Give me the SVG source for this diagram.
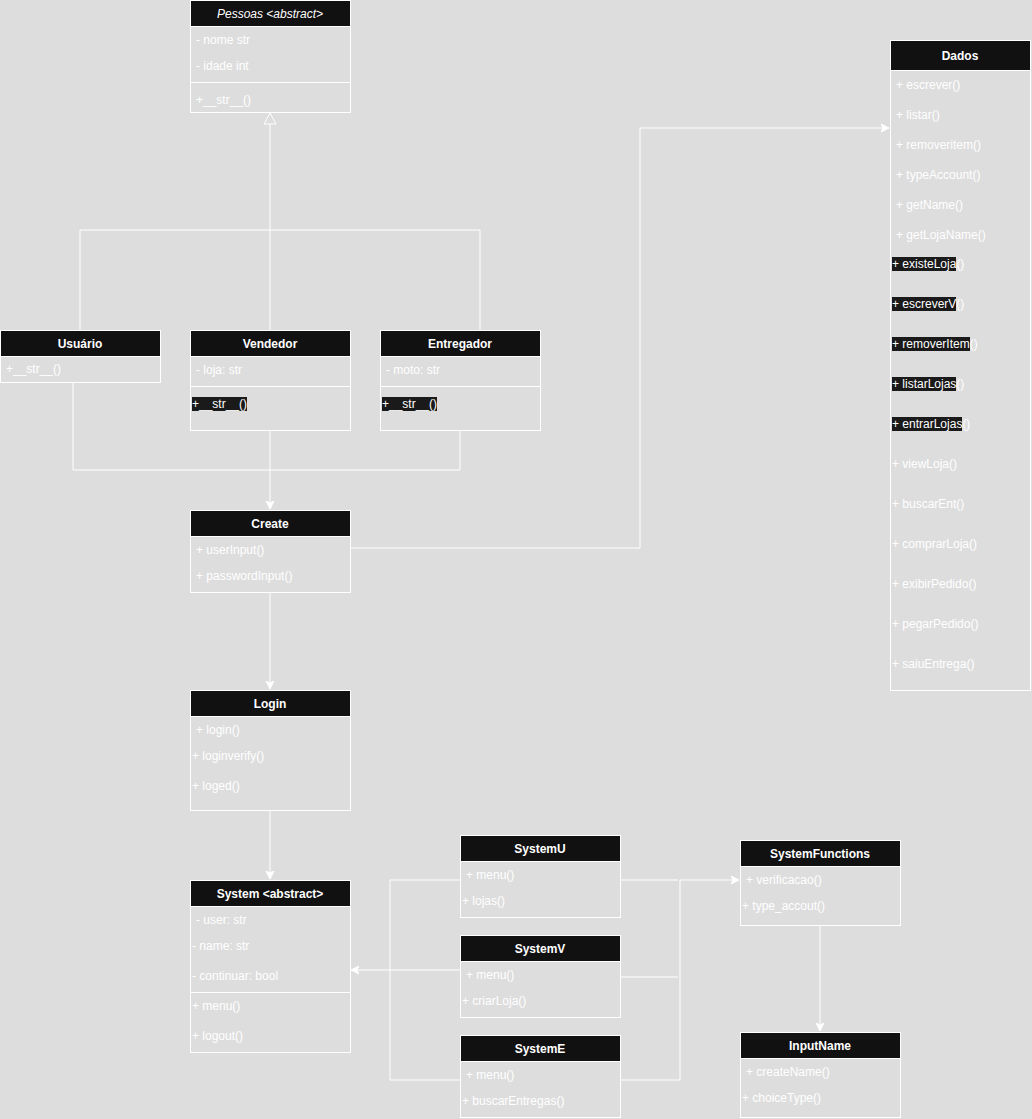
<svg xmlns="http://www.w3.org/2000/svg" width="1032" height="1119" viewBox="0 0 1032 1119">
<defs>
<style>
.box{fill:none;stroke:#ffffff;stroke-width:1}
.hd{fill:#111111;stroke:#ffffff;stroke-width:1}
.sep{stroke:#ffffff;stroke-width:1}
.ht{font-family:"Liberation Sans",Arial,sans-serif;font-size:12px;font-weight:bold;fill:#ffffff;text-anchor:middle}
.t{font-family:"Liberation Sans",Arial,sans-serif;font-size:12px;fill:#ffffff}
.hl{fill:#1a1a1a}
.ln{fill:none;stroke:#ffffff;stroke-width:1}
</style>
<marker id="arr" markerWidth="10" markerHeight="10" refX="8" refY="5" orient="auto" markerUnits="userSpaceOnUse">
<path d="M0,1 L8,5 L0,9 L2,5 Z" fill="#ffffff" stroke="#ffffff" stroke-width="1"/>
</marker>
</defs>
<rect x="0" y="0" width="1032" height="1119" fill="#dddddd"/>

<g id="connectors">
<line class="ln" x1="270" y1="124" x2="270" y2="230"/>
<polyline class="ln" points="80,330 80,230 480,230 480,330"/>
<line class="ln" x1="270" y1="230" x2="270" y2="330"/>
<path d="M270,113 L264,124 L276,124 Z" fill="#dddddd" stroke="#ffffff" stroke-width="1"/>
<polyline class="ln" points="73,382 73,470 460,470 460,430"/>
<line class="ln" x1="270" y1="430" x2="270" y2="509" marker-end="url(#arr)"/>
<polyline class="ln" points="350,548 640,548 640,128 889,128" marker-end="url(#arr)"/>
<line class="ln" x1="270" y1="592" x2="270" y2="689" marker-end="url(#arr)"/>
<line class="ln" x1="270" y1="810" x2="270" y2="879" marker-end="url(#arr)"/>
<polyline class="ln" points="460,880 390,880 390,1080 460,1080"/>
<line class="ln" x1="460" y1="970" x2="351" y2="970" marker-end="url(#arr)"/>
<line class="ln" x1="620" y1="880" x2="678" y2="880"/>
<line class="ln" x1="620" y1="977" x2="678" y2="977"/>
<line class="ln" x1="620" y1="1080" x2="680" y2="1080"/>
<polyline class="ln" points="680,1080 680,880 739,880" marker-end="url(#arr)"/>
<line class="ln" x1="820" y1="925" x2="820" y2="1031" marker-end="url(#arr)"/>
</g>

<g id="pessoas">
<rect class="box" x="190.5" y="0.5" width="160" height="112"/>
<rect class="hd" x="190.5" y="0.5" width="160" height="26"/>
<text class="ht" x="270" y="18" style="font-weight:normal;font-style:italic">Pessoas &lt;abstract&gt;</text>
<text class="t" x="196" y="44">- nome str</text>
<text class="t" x="196" y="70">- idade int</text>
<line class="sep" x1="190.5" y1="82.5" x2="350.5" y2="82.5"/>
<text class="t" x="196" y="104">+__str__()</text>
</g>

<g id="usuario">
<rect class="box" x="0.5" y="330.5" width="160" height="52"/>
<rect class="hd" x="0.5" y="330.5" width="160" height="26"/>
<text class="ht" x="80" y="348">Usuário</text>
<text class="t" x="6" y="373">+__str__()</text>
</g>

<g id="vendedor">
<rect class="box" x="190.5" y="330.5" width="160" height="100"/>
<rect class="hd" x="190.5" y="330.5" width="160" height="26"/>
<text class="ht" x="270" y="348">Vendedor</text>
<text class="t" x="196" y="374">- loja: str</text>
<line class="sep" x1="190.5" y1="386.5" x2="350.5" y2="386.5"/>
<rect class="hl" x="192" y="397" width="55" height="14"/>
<text class="t" x="192" y="408">+__str__()</text>
</g>

<g id="entregador">
<rect class="box" x="380.5" y="330.5" width="160" height="100"/>
<rect class="hd" x="380.5" y="330.5" width="160" height="26"/>
<text class="ht" x="460" y="348">Entregador</text>
<text class="t" x="386" y="374">- moto: str</text>
<line class="sep" x1="380.5" y1="386.5" x2="540.5" y2="386.5"/>
<rect class="hl" x="382" y="397" width="55" height="14"/>
<text class="t" x="382" y="408">+__str__()</text>
</g>

<g id="create">
<rect class="box" x="190.5" y="510.5" width="160" height="82"/>
<rect class="hd" x="190.5" y="510.5" width="160" height="26"/>
<text class="ht" x="270" y="528">Create</text>
<text class="t" x="196" y="554">+ userInput()</text>
<text class="t" x="196" y="580">+ passwordInput()</text>
</g>

<g id="login">
<rect class="box" x="190.5" y="690.5" width="160" height="120"/>
<rect class="hd" x="190.5" y="690.5" width="160" height="26"/>
<text class="ht" x="270" y="708">Login</text>
<text class="t" x="196" y="734">+ login()</text>
<text class="t" x="192" y="760">+ loginverify()</text>
<text class="t" x="192" y="790">+ loged()</text>
</g>

<g id="system">
<rect class="box" x="190.5" y="880.5" width="160" height="172"/>
<rect class="hd" x="190.5" y="880.5" width="160" height="26"/>
<text class="ht" x="270" y="898">System &lt;abstract&gt;</text>
<text class="t" x="196" y="924">- user: str</text>
<text class="t" x="192" y="950">- name: str</text>
<text class="t" x="192" y="980">- continuar: bool</text>
<line class="sep" x1="190.5" y1="992.5" x2="350.5" y2="992.5"/>
<text class="t" x="192" y="1010">+ menu()</text>
<text class="t" x="192" y="1040">+ logout()</text>
</g>

<g id="systemU">
<rect class="box" x="460.5" y="835.5" width="160" height="82"/>
<rect class="hd" x="460.5" y="835.5" width="160" height="26"/>
<text class="ht" x="540" y="853">SystemU</text>
<text class="t" x="466" y="879">+ menu()</text>
<text class="t" x="462" y="905">+ lojas()</text>
</g>

<g id="systemV">
<rect class="box" x="460.5" y="935.5" width="160" height="82"/>
<rect class="hd" x="460.5" y="935.5" width="160" height="26"/>
<text class="ht" x="540" y="953">SystemV</text>
<text class="t" x="466" y="979">+ menu()</text>
<text class="t" x="462" y="1005">+ criarLoja()</text>
</g>

<g id="systemE">
<rect class="box" x="460.5" y="1035.5" width="160" height="82"/>
<rect class="hd" x="460.5" y="1035.5" width="160" height="26"/>
<text class="ht" x="540" y="1053">SystemE</text>
<text class="t" x="466" y="1079">+ menu()</text>
<text class="t" x="462" y="1105">+ buscarEntregas()</text>
</g>

<g id="systemFunctions">
<rect class="box" x="740.5" y="840.5" width="160" height="85"/>
<rect class="hd" x="740.5" y="840.5" width="160" height="26"/>
<text class="ht" x="820" y="858">SystemFunctions</text>
<text class="t" x="746" y="884">+ verificacao()</text>
<text class="t" x="742" y="910">+ type_accout()</text>
</g>

<g id="inputName">
<rect class="box" x="740.5" y="1032.5" width="160" height="85"/>
<rect class="hd" x="740.5" y="1032.5" width="160" height="26"/>
<text class="ht" x="820" y="1050">InputName</text>
<text class="t" x="746" y="1076">+ createName()</text>
<text class="t" x="742" y="1102">+ choiceType()</text>
</g>

<g id="dados">
<rect class="box" x="890.5" y="40.5" width="140" height="650"/>
<rect class="hd" x="890.5" y="40.5" width="140" height="30"/>
<text class="ht" x="960" y="60">Dados</text>
<text class="t" x="896" y="89">+ escrever()</text>
<text class="t" x="896" y="119">+ listar()</text>
<text class="t" x="896" y="149">+ removeritem()</text>
<text class="t" x="896" y="179">+ typeAccount()</text>
<text class="t" x="896" y="209">+ getName()</text>
<text class="t" x="896" y="239">+ getLojaName()</text>
<rect class="hl" x="892" y="257" width="64" height="14"/>
<text class="t" x="892" y="268">+ existeLoja()</text>
<rect class="hl" x="892" y="297" width="64" height="14"/>
<text class="t" x="892" y="308">+ escreverV()</text>
<rect class="hl" x="892" y="337" width="78" height="14"/>
<text class="t" x="892" y="348">+ removerItem()</text>
<rect class="hl" x="892" y="377" width="64" height="14"/>
<text class="t" x="892" y="388">+ listarLojas()</text>
<rect class="hl" x="892" y="417" width="70" height="14"/>
<text class="t" x="892" y="428">+ entrarLojas()</text>
<text class="t" x="892" y="468">+ viewLoja()</text>
<text class="t" x="892" y="508">+ buscarEnt()</text>
<text class="t" x="892" y="548">+ comprarLoja()</text>
<text class="t" x="892" y="588">+ exibirPedido()</text>
<text class="t" x="892" y="628">+ pegarPedido()</text>
<text class="t" x="892" y="668">+ saiuEntrega()</text>
</g>
</svg>
